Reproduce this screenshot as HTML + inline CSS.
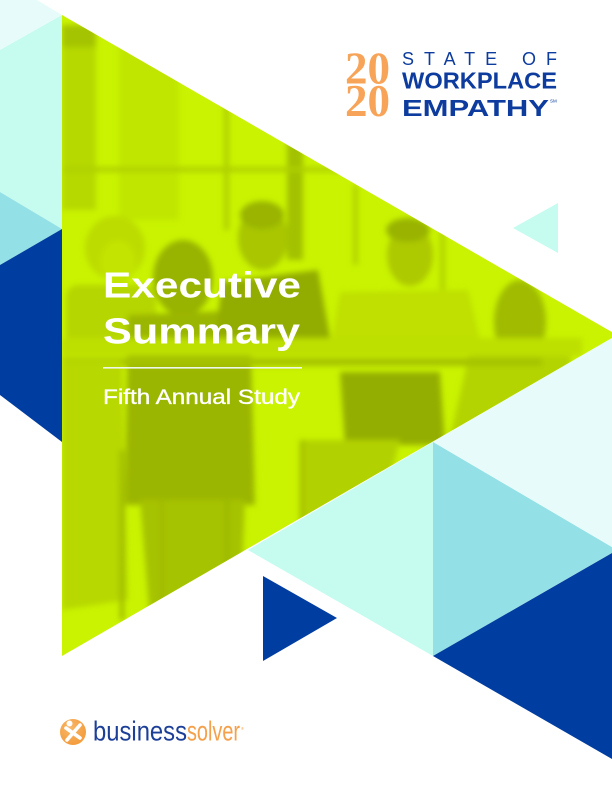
<!DOCTYPE html>
<html>
<head>
<meta charset="utf-8">
<style>
  html,body{margin:0;padding:0;background:#fff;}
  svg{display:block;}
</style>
</head>
<body>
<svg width="612" height="792" viewBox="0 0 612 792" xmlns="http://www.w3.org/2000/svg">
  <defs>
    <clipPath id="tri">
      <polygon points="62,15 617,335 62,656"/>
    </clipPath>
    <filter id="soft" x="-10%" y="-10%" width="120%" height="120%">
      <feGaussianBlur stdDeviation="3"/>
    </filter>
    <radialGradient id="og" cx="40%" cy="35%" r="70%">
      <stop offset="0" stop-color="#f8b869"/>
      <stop offset="1" stop-color="#f39a3a"/>
    </radialGradient>
  </defs>

  <rect width="612" height="792" fill="#ffffff"/>

  <!-- left strip shapes -->
  <polygon points="0,0 37,0 62,15 0,50" fill="#e7fcfa"/>
  <polygon points="0,50 62,15 62,229 0,192" fill="#c6fbf0"/>
  <polygon points="0,192 62,229 0,265" fill="#93e1e6"/>
  <polygon points="0,265 62,229 62,442 0,395" fill="#003da0"/>

  <!-- bottom right shapes -->
  <polygon points="433,442 612,338 612,547" fill="#e7fcfa"/>
  <polygon points="433,442 248,550 433,656" fill="#c6fbf0"/>
  <polygon points="433,442 617,550 433,656" fill="#93e1e6"/>
  <polygon points="433,656 612,553 612,759" fill="#003da0"/>
  <polygon points="263,576 263,661 337,618" fill="#003da0"/>

  <!-- small top-right triangle -->
  <polygon points="513,228 558,203 558,253" fill="#c6fbf0"/>

  <!-- photo triangle -->
  <g clip-path="url(#tri)">
    <rect x="60" y="10" width="560" height="650" fill="#c9f300"/>
    <g filter="url(#soft)">
      <!-- window / background -->
      <rect x="62" y="25" width="34" height="185" fill="#b6d900"/>
      <rect x="62" y="25" width="34" height="22" fill="#a4c300"/>
      <rect x="119" y="40" width="60" height="180" fill="#c0e600"/>
      <rect x="224" y="90" width="5" height="140" fill="#aecf00"/>
      <rect x="287" y="140" width="16" height="120" fill="#a3c100"/>
      <rect x="62" y="167" width="360" height="5" fill="#afd000"/>
      <rect x="353" y="185" width="5" height="80" fill="#b0d200"/>
      <rect x="440" y="230" width="5" height="60" fill="#b0d200"/>

      <!-- woman left -->
      <ellipse cx="115" cy="248" rx="30" ry="32" fill="#bcdc00"/>
      <ellipse cx="118" cy="262" rx="18" ry="22" fill="#c2e400"/>
      <rect x="66" y="285" width="90" height="60" rx="12" fill="#b6d600"/>

      <!-- back-head person -->
      <ellipse cx="183" cy="278" rx="30" ry="38" fill="#98b300"/>
      <path d="M128,315 L250,310 L255,505 L125,505 Z" fill="#9bb600"/>

      <!-- center man -->
      <ellipse cx="263" cy="238" rx="25" ry="32" fill="#a9c600"/>
      <ellipse cx="262" cy="215" rx="22" ry="14" fill="#9ab400"/>
      <path d="M222,282 L318,270 L332,348 L214,348 Z" fill="#93ac00"/>

      <!-- bearded man -->
      <ellipse cx="410" cy="255" rx="23" ry="31" fill="#adc900"/>
      <ellipse cx="408" cy="230" rx="22" ry="12" fill="#99b300"/>
      <path d="M340,292 L468,290 L482,348 L330,350 Z" fill="#bfe000"/>

      <!-- woman right -->
      <ellipse cx="520" cy="322" rx="26" ry="42" fill="#a0bb00"/>
      <path d="M470,350 L570,340 L575,460 L445,460 Z" fill="#b4d400"/>

      <!-- table -->
      <rect x="62" y="338" width="520" height="18" fill="#bde000"/>
      <rect x="62" y="358" width="480" height="8" fill="#a6c300"/>

      <!-- lower left person -->
      <path d="M62,360 L122,360 L128,600 L62,610 Z" fill="#b7d800"/>
      <!-- legs under back person -->
      <path d="M140,500 L245,500 L240,620 L150,620 Z" fill="#a6c300"/>
      <!-- right side dark legs -->
      <path d="M340,372 L440,372 L445,445 L345,445 Z" fill="#94ae00"/>
      <path d="M300,440 L400,440 L380,520 L300,520 Z" fill="#b2d200"/>
      <!-- chair legs -->
      <rect x="120" y="450" width="4" height="170" fill="#9cb600"/>
      <rect x="225" y="480" width="4" height="150" fill="#9cb600"/>
      <rect x="160" y="500" width="4" height="140" fill="#a0ba00"/>
      <rect x="300" y="440" width="4" height="120" fill="#a0ba00"/>
    </g>
  </g>

  <!-- title -->
  <text x="103" y="297.5" font-family="Liberation Sans, sans-serif" font-weight="bold" font-size="36" fill="#ffffff" textLength="198" lengthAdjust="spacingAndGlyphs">Executive</text>
  <text x="103" y="343.5" font-family="Liberation Sans, sans-serif" font-weight="bold" font-size="36" fill="#ffffff" textLength="197" lengthAdjust="spacingAndGlyphs">Summary</text>
  <rect x="103" y="367" width="199" height="1.6" fill="#eef8ea"/>
  <text x="103" y="404" font-family="Liberation Sans, sans-serif" font-size="21" fill="#ffffff" stroke="#ffffff" stroke-width="0.35" textLength="197" lengthAdjust="spacingAndGlyphs">Fifth Annual Study</text>

  <!-- top-right logo -->
  <text x="345" y="83.3" font-family="Liberation Serif, serif" font-weight="bold" font-size="45" fill="#f7a459" textLength="45" lengthAdjust="spacingAndGlyphs">20</text>
  <text x="345" y="116" font-family="Liberation Serif, serif" font-weight="bold" font-size="45" fill="#f7a459" textLength="45" lengthAdjust="spacingAndGlyphs">20</text>
  <text x="402" y="65" font-family="Liberation Sans, sans-serif" font-size="18" fill="#0d3c9e" textLength="155" lengthAdjust="spacing">STATE OF</text>
  <text x="402" y="88.3" font-family="Liberation Sans, sans-serif" font-weight="bold" font-size="23" fill="#0d3c9e" textLength="155" lengthAdjust="spacingAndGlyphs">WORKPLACE</text>
  <text x="402" y="116" font-family="Liberation Sans, sans-serif" font-weight="bold" font-size="23" fill="#0d3c9e" textLength="147" lengthAdjust="spacingAndGlyphs">EMPATHY</text>
  <text x="550" y="102.5" font-family="Liberation Sans, sans-serif" font-size="4.5" fill="#0d3c9e">SM</text>

  <!-- businessolver logo -->
  <circle cx="73" cy="732" r="13" fill="url(#og)"/>
  <circle cx="69.5" cy="723.5" r="3" fill="#ffffff"/>
  <path d="M66,728 L80,738" stroke="#ffffff" stroke-width="3.6" stroke-linecap="round" fill="none"/>
  <path d="M80,725 L67,740" stroke="#ffffff" stroke-width="3.6" stroke-linecap="round" fill="none"/>
  <text x="93" y="740.7" font-family="Liberation Sans, sans-serif" font-size="28" fill="#1c3f98" textLength="94" lengthAdjust="spacingAndGlyphs">business</text>
  <text x="187" y="740.7" font-family="Liberation Sans, sans-serif" font-size="28" fill="#f5a04a" textLength="53" lengthAdjust="spacingAndGlyphs">solver</text>
  <text x="241" y="730" font-family="Liberation Sans, sans-serif" font-size="4" fill="#f5a04a">®</text>
</svg>
</body>
</html>
